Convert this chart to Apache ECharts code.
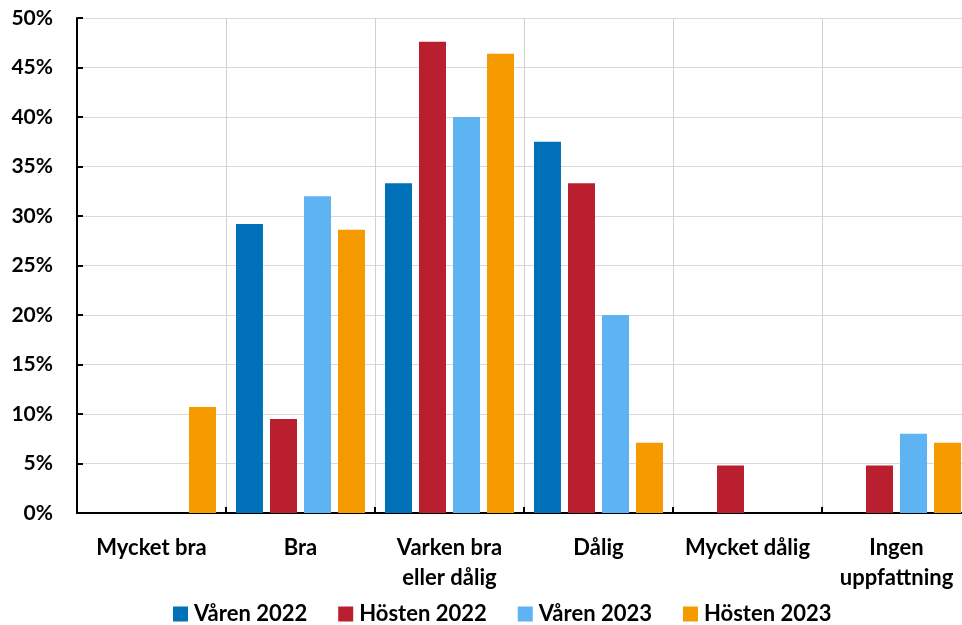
<!DOCTYPE html>
<html><head><meta charset="utf-8">
<script src="https://cdn.jsdelivr.net/npm/echarts@6/dist/echarts.min.js"></script>
<style>html,body{margin:0;padding:0;background:#fff}#c{width:962px;height:625px}</style>
</head><body><div id="c"></div>
<script>
const categories = ['Mycket bra','Bra','Varken bra\neller dålig','Dålig','Mycket dålig','Ingen\nuppfattning'];
const seriesNames = ['Våren 2022','Hösten 2022','Våren 2023','Hösten 2023'];
const varen2022 = [0, 29.2, 33.3, 37.5, 0, 0];
const hosten2022 = [0, 9.5, 47.6, 33.3, 4.8, 4.8];
const varen2023 = [0, 32.0, 40.0, 20.0, 0, 8.0];
const hosten2023 = [10.7, 28.6, 46.4, 7.1, 0, 7.1];
const colors = ['#0070b8','#b91f2e','#5eb3f3','#f59b00'];
const font = 'Lato';
const chart = echarts.init(document.getElementById('c'), null, {renderer:'canvas'});
const data = [varen2022, hosten2022, varen2023, hosten2023];
chart.setOption({
  animation:false,
  textStyle:{fontFamily:font},
  grid:{left:77, top:18, width:894, height:495, outerBoundsMode:'none', containLabel:false},
  legend:{
    top:603, left:173, padding:0, itemWidth:15, itemHeight:15, itemGap:31,
    icon:'rect',
    textStyle:{fontFamily:font, fontWeight:'bold', fontSize:22, color:'#000', padding:[0,0,0,1]},
    data: seriesNames
  },
  xAxis:{
    type:'category', data:categories,
    axisLine:{lineStyle:{color:'#000', width:2}},
    axisTick:{show:true, inside:true, length:6, lineStyle:{color:'#000', width:2}},
    splitLine:{show:true, lineStyle:{color:'#d0d0d0', width:1}},
    axisLabel:{fontFamily:font, fontWeight:'bold', fontSize:22, color:'#000', margin:20, lineHeight:30, interval:0}
  },
  yAxis:{
    type:'value', min:0, max:50, interval:5,
    axisLine:{show:true, lineStyle:{color:'#000', width:2}},
    axisTick:{show:true, inside:true, length:6, lineStyle:{color:'#000', width:2}},
    splitLine:{lineStyle:{color:'#d9d9d9', width:1}},
    axisLabel:{fontFamily:font, fontWeight:'bold', fontSize:21, color:'#000', margin:24, formatter:'{value}%'}
  },
  series: seriesNames.map((n,i)=>({
    name:n, type:'bar', data:data[i],
    itemStyle:{color:colors[i]},
    barGap:'26%', barCategoryGap:'13.4%'
  }))
});
</script></body></html>
